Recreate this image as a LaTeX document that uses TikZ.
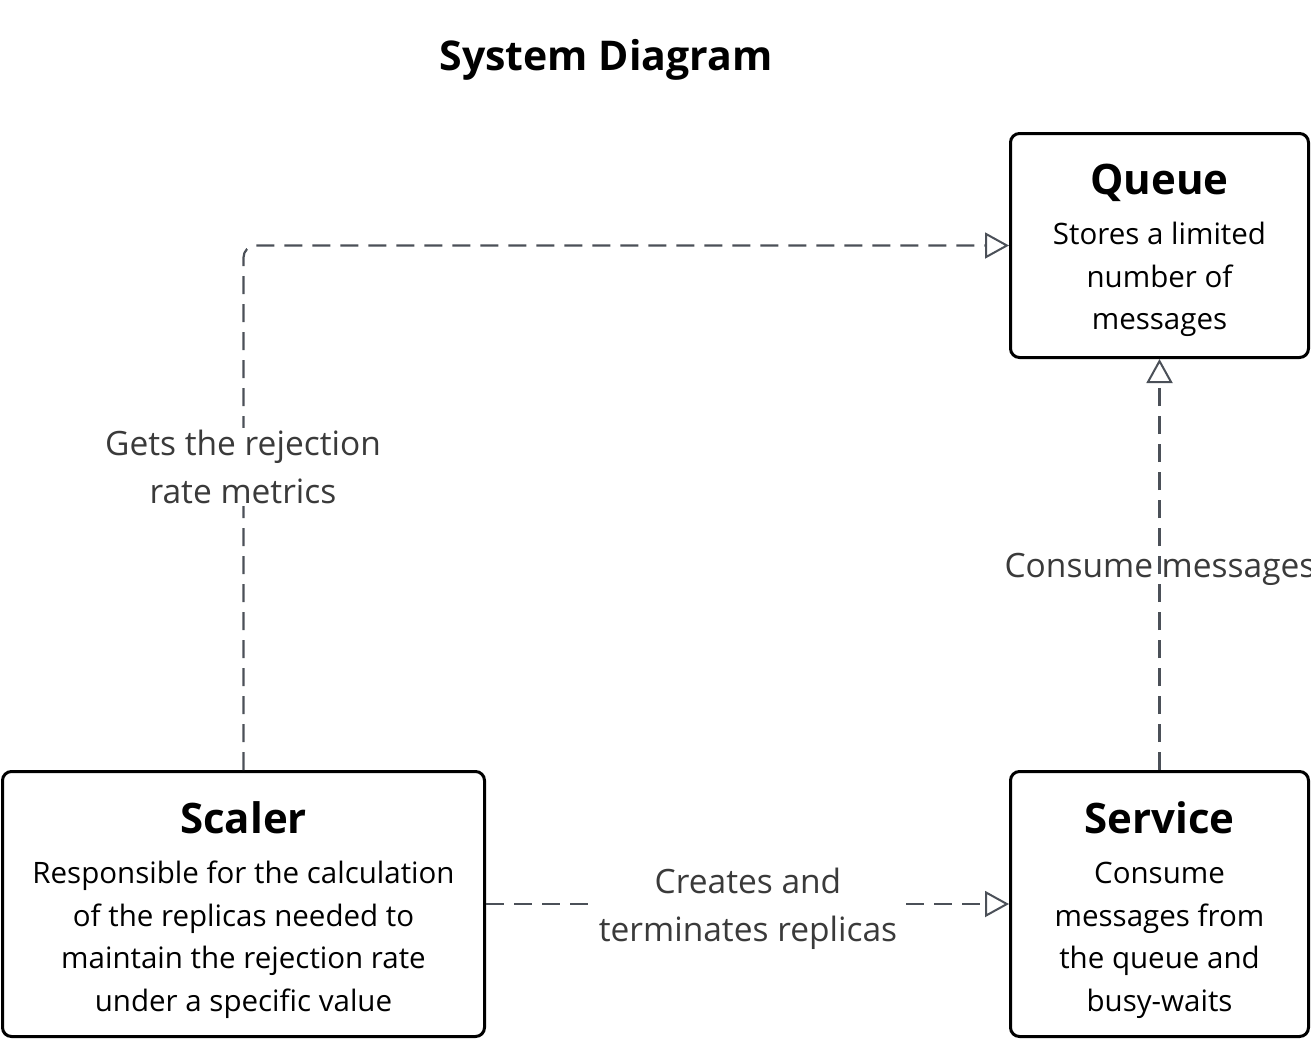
\documentclass[tikz,border=0pt]{standalone}
\usepackage{fontspec}
\setmainfont{Open Sans}
\usetikzlibrary{arrows.meta}
\definecolor{conncol}{HTML}{4B5058}
\definecolor{lblcol}{HTML}{3A3A3A}
\tikzset{
  box/.style={draw=black, line width=3pt, rounded corners=9pt, fill=white,
    inner sep=0pt},
  boxtext/.style={align=center, inner sep=0pt, text=black,
    font=\fontsize{29.5}{42.5}\selectfont},
  conn/.style={draw=conncol, line width=2.2pt, dash pattern=on 18pt off 10pt,
    -{Triangle[open, length=24pt, width=26pt, line width=2pt]}},
  lbl/.style={align=center, text=lblcol, inner sep=2pt,
    font=\fontsize{33.5}{48}\selectfont},
  ttl/.style={font=\bfseries\fontsize{41}{48}\selectfont}
}
\newcommand{\bxttl}[1]{{\bfseries\fontsize{42}{42}\selectfont #1}}
\begin{document}
\begin{tikzpicture}[x=1pt, y=-1pt]
\useasboundingbox (0,0) rectangle (1311,1039);
\node[ttl] (title) at (606,60) {System Diagram};
\node[box, minimum width=298pt, minimum height=224pt] (queue) at (1159.5,245.5) {};
\node[box, minimum width=482pt, minimum height=265pt] (scaler) at (243.5,904) {};
\node[box, minimum width=298pt, minimum height=265pt] (service) at (1159.5,904) {};
\node[boxtext] (queuetxt) at (queue.center) [yshift=-5pt]
  {\bxttl{Queue}\\[8pt]Stores a limited\\number of\\messages};
\node[boxtext] (scalertxt) at (scaler.center) [yshift=-6pt]
  {\bxttl{Scaler}\\[8pt]Responsible for the calculation\\of the replicas needed to\\maintain the rejection rate\\under a specific value};
\node[boxtext] (servicetxt) at (service.center) [yshift=-6pt]
  {\bxttl{Service}\\[8pt]Consume\\messages from\\the queue and\\busy-waits};
\draw[conn, rounded corners=12pt] (scaler.north) |- (queue.west);
\draw[conn] (service.north) -- (queue.south);
\draw[conn] (scaler.east) -- (service.west);
\node[lbl, fill=white] (lgets) at (243,467) {Gets the rejection\\rate metrics};
\node[lbl] (lcons) at (1160,569) {Consume messages};
\node[lbl, fill=white] (lcreate) at (748,909) {Creates and\\terminates replicas};
\end{tikzpicture}
\end{document}
